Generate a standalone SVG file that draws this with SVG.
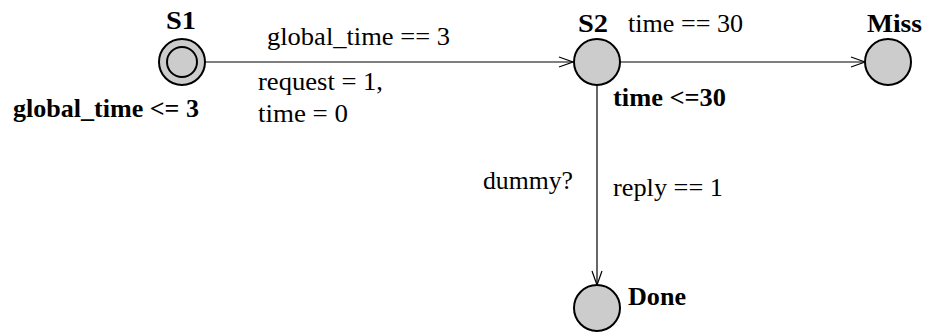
<svg xmlns="http://www.w3.org/2000/svg" width="930" height="333" viewBox="0 0 930 333">
<defs>
<style>
.loc{fill:#cccccc;stroke:#000;stroke-width:2}
.edge{stroke:#000;stroke-width:1.2;fill:none}
.ah{stroke:#000;stroke-width:1.2;fill:none}
text{font-family:"Liberation Serif","Times New Roman",serif;font-size:25px;fill:#000}
.b{font-weight:bold}
</style>
</defs>
<rect width="930" height="333" fill="#fff"/>
<g id="connectors">
<line class="edge" x1="205" y1="62" x2="573" y2="62"/>
<polyline class="ah" points="559,57 573,62 559,67"/>
<line class="edge" x1="620" y1="62" x2="865" y2="62"/>
<polyline class="ah" points="851,57 865,62 851,67"/>
<line class="edge" x1="597" y1="85" x2="597" y2="285"/>
<polyline class="ah" points="592,271 597,285 602,271"/>
<text x="267" y="45" textLength="183" lengthAdjust="spacingAndGlyphs">global_time == 3</text>
<text x="258" y="90" textLength="125" lengthAdjust="spacingAndGlyphs">request = 1,</text>
<text x="258" y="122" textLength="90" lengthAdjust="spacingAndGlyphs">time = 0</text>
<text x="628" y="32" textLength="115" lengthAdjust="spacingAndGlyphs">time == 30</text>
<text x="483" y="189" textLength="90" lengthAdjust="spacingAndGlyphs">dummy?</text>
<text x="613" y="196" textLength="110" lengthAdjust="spacingAndGlyphs">reply == 1</text>
</g>
<g id="S1">
<circle class="loc" cx="182" cy="62" r="23"/>
<circle class="loc" cx="182" cy="62" r="15"/>
<text class="b" x="166" y="29" textLength="30" lengthAdjust="spacingAndGlyphs">S1</text>
<text class="b" x="13" y="117" textLength="186" lengthAdjust="spacingAndGlyphs">global_time &lt;= 3</text>
</g>
<g id="S2">
<circle class="loc" cx="597" cy="62" r="23"/>
<text class="b" x="578" y="32" textLength="30" lengthAdjust="spacingAndGlyphs">S2</text>
<text class="b" x="613" y="106" textLength="113" lengthAdjust="spacingAndGlyphs">time &lt;=30</text>
</g>
<g id="Miss">
<circle class="loc" cx="888" cy="62" r="23"/>
<text class="b" x="867" y="32" textLength="55" lengthAdjust="spacingAndGlyphs">Miss</text>
</g>
<g id="Done">
<circle class="loc" cx="597" cy="308" r="23"/>
<text class="b" x="628" y="305" textLength="58" lengthAdjust="spacingAndGlyphs">Done</text>
</g>
</svg>
